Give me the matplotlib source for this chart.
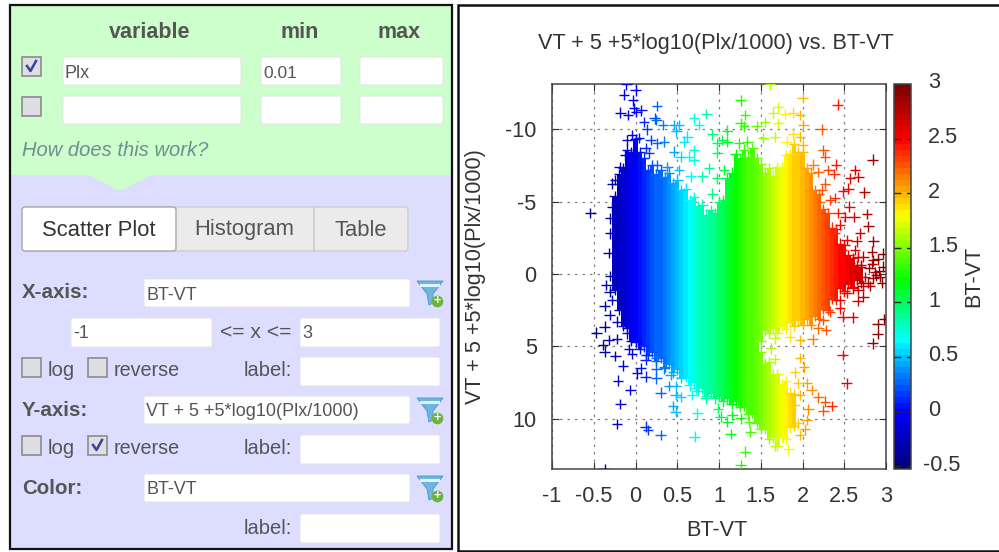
import numpy as np
import matplotlib
matplotlib.use('Agg')
import matplotlib.pyplot as plt
from matplotlib.patches import Rectangle, FancyBboxPatch, Polygon
from matplotlib.colors import Normalize, LinearSegmentedColormap

plt.rcParams['font.family'] = ['Liberation Sans', 'DejaVu Sans']

# dense part of the cloud, one column per colour step
col_x = [-0.25, -0.2, -0.15, -0.1, -0.05, 0.0, 0.05, 0.1, 0.15, 0.2, 0.25, 0.3, 0.35, 0.4, 0.45,
         0.5, 0.55, 0.6, 0.65, 0.7, 0.75, 0.8, 0.85, 0.9, 0.95, 1.0, 1.05, 1.1, 1.15, 1.2,
         1.25, 1.3, 1.35, 1.4, 1.45, 1.5, 1.55, 1.6, 1.65, 1.7, 1.75, 1.8, 1.85, 1.9, 1.95,
         2.0, 2.05, 2.1, 2.15, 2.2, 2.25, 2.3, 2.35, 2.4, 2.45, 2.5, 2.55, 2.6, 2.65, 2.7]
col_top = [-5.4, -6.9, -7.3, -8.6, -8.4, -9.3, -8.4, -8.0, -7.2, -7.5, -6.9, -7.2, -6.7, -7.0, -6.3,
           -6.5, -5.8, -5.9, -5.1, -5.3, -4.7, -4.8, -4.1, -4.4, -4.2, -5.0, -5.1, -6.6, -7.0, -8.3,
           -8.0, -8.6, -8.1, -8.7, -8.0, -7.6, -7.0, -7.3, -6.8, -7.4, -7.4, -8.2, -8.3, -9.0, -8.4,
           -8.4, -7.3, -7.0, -5.8, -5.5, -4.5, -4.2, -3.2, -3.1, -2.1, -2.0, -1.3, -1.1, -0.6, -0.5]
col_bot = [1.1, 2.5, 3.6, 3.7, 4.6, 4.6, 5.2, 5.0, 5.6, 5.4, 6.0, 5.8, 6.4, 6.2, 6.8,
           6.6, 7.2, 7.1, 7.7, 7.5, 8.1, 7.9, 8.4, 8.2, 8.6, 8.4, 8.8, 8.6, 9.0, 8.8,
           9.2, 9.1, 9.7, 9.6, 10.3, 4.6, 3.9, 4.1, 3.7, 4.1, 3.6, 3.8, 3.3, 3.6, 3.2,
           3.5, 3.1, 3.5, 2.9, 3.1, 2.4, 2.5, 1.7, 1.8, 1.0, 1.2, 0.7, 0.9, 0.4, 0.6]

# lower lobe that splits off on the red side
lobe_x = [1.5, 1.55, 1.6, 1.65, 1.7, 1.75, 1.8, 1.85, 1.9]
lobe_top = [5.4, 6.2, 6.1, 6.9, 6.9, 7.6, 7.4, 8.2, 8.3]
lobe_bot = [10.7, 10.7, 11.4, 11.3, 11.9, 11.3, 11.4, 10.6, 10.5]

# single stars around the cloud
star_x = [-0.11, 0.0, -0.14, -0.03, -0.02, -0.18, -0.09, 0.01, 0.07, 0.26, 0.23, 0.25, 0.1, 0.14, 0.33,
          0.46, 0.52, 0.49, 0.7, 0.76, 0.85, 1.26, 1.31, 1.26, 1.3, 1.45, 1.1, 0.92, 0.62, 0.58,
          1.04, 1.1, 0.98, 0.98, 1.24, 1.34, -0.1, -0.04, 0.04, 0.18, 0.26, 0.34, 0.12, 0.16, -0.12,
          0.46, 0.7, 0.54, 0.64, 0.7, 0.52, 0.38, 0.26, -0.19, -0.24, -0.28, 0.88, 0.8, 0.66, 0.98,
          1.06, 0.92, 1.1, -0.54, -0.3, -0.3, -0.32, -0.3, -0.28,
          1.61, 2.0, 2.42, 1.71, 1.65, 1.79, 1.89, 1.97, 2.01, 1.55, 1.71, 2.23, 1.89, 1.97, 1.67,
          1.53, 1.81, 2.0, 2.25, 2.27, 2.84, 2.4, 2.63, 2.31, 2.38, 2.13, 2.19, 2.67, 2.57, 2.27,
          2.55, 2.74, 2.23, 2.09, 2.49, 2.39, 2.33, 2.21, 2.56, 2.43, 2.77, 2.62, 2.51, 2.79, 2.69,
          2.45, 2.39, 2.85, 2.65, 2.53, 2.63, 2.83, 2.97, 2.85, 2.73, 2.47, 2.87, 2.57,
          2.81, 2.73, 2.66, 2.67, 2.98, 2.9, 2.9, 2.84, 2.48, 2.53, 2.6, 2.48, 2.45, 2.53, 2.45,
          2.33, 2.28, 2.19, 2.25, 2.12, 1.97, 1.85, 1.67, 1.62, 1.97, 1.67, 2.02, 1.91, 2.05, 2.11,
          1.95, 1.97, 2.19, 2.27, 2.35, 2.25, 2.07, 1.91, 2.05, 1.95, 2.03, 1.97, 1.77, 1.67, 1.83,
          -0.37, -0.35, -0.31, -0.28, -0.37, -0.31, -0.22, -0.37, -0.47, -0.32, -0.39, -0.37, -0.22, -0.1, 0.0,
          -0.08, -0.04, -0.24, -0.15, 0.13, 0.25, 0.12, 0.06, 0.02, 0.12, 0.25, 0.25, 0.34, 0.42, -0.21,
          -0.06, 0.3, 0.4, 0.48, 0.48, 0.54, 0.68, 0.72, 0.84, 0.99, -0.18, 0.45, 0.48, 0.74, 1.02,
          1.1, 1.16, 1.26, 1.36, -0.22, 0.12, 0.15, 0.3, 0.71, 1.14, 1.375, 1.31, 1.26,
          2.7, 2.75, 2.8, 2.85, 2.88, 2.92, 2.95, 2.78, 2.83, 2.72, 2.66, 2.6, 2.9, 2.97, 2.93]
star_y = [-13.1, -12.7, -12.4, -12.0, -11.45, -11.15, -11.0, -11.2, -11.3, -11.6, -10.75, -10.65, -10.5, -10.0, -10.3,
          -10.3, -10.3, -9.85, -10.75, -10.3, -11.05, -12.0, -11.0, -10.4, -10.2, -10.2, -9.9, -9.65, -9.5, -9.15,
          -9.25, -9.15, -9.03, -8.35, -9.03, -9.15, -9.25, -9.6, -9.4, -9.25, -9.03, -9.15, -8.7, -8.35, -8.2,
          -8.45, -8.55, -8.1, -8.1, -7.9, -7.2, -7.4, -7.5, -7.4, -6.5, -6.25, -7.3, -6.75, -6.75, -6.6,
          -7.2, -5.55, -5.0, -4.2, -3.85, -2.8, -1.45, 0.15, -4.65,
          -13.1, -12.15, -11.7, -11.55, -11.15, -11.05, -11.15, -11.0, -10.3, -10.5, -10.4, -10.0, -9.7, -9.5, -9.5,
          -9.4, -9.15, -8.9, -8.55, -8.1, -7.9, -7.55, -7.2, -7.2, -6.9, -7.55, -7.05, -6.7, -6.6, -6.25,
          -5.9, -5.65, -5.8, -5.7, -5.7, -5.25, -5.1, -5.0, -4.65, -4.2, -4.15, -3.95, -3.95, -3.3, -2.8,
          -3.4, -2.8, -2.25, -2.25, -2.35, -1.65, -1.55, -1.4, -0.95, -1.2, -1.65, -0.15, -0.75,
          0.83, 1.57, 1.84, 1.1, 3.13, 3.45, 4.15, 4.8, 5.6, 7.56, 3.0, 2.95, 2.37, 1.29, 1.8,
          2.6, 3.87, 3.76, 3.18, 4.52, 4.56, 4.33, 4.45, 5.14, 5.8, 5.9, 6.45, 6.8, 7.56, 8.02,
          7.56, 8.36, 8.53, 8.82, 9.12, 9.45, 9.36, 9.06, 10.09, 10.32, 10.74, 11.13, 11.24, 11.87, 12.12,
          13.5, 0.76, 1.22, 1.8, 2.2, 2.83, 3.3, 3.64, 4.06, 4.56, 4.9, 5.37, 4.5, 4.1, 4.68,
          5.2, 5.53, 5.67, 6.34, 5.6, 5.83, 5.95, 6.52, 6.87, 7.1, 6.59, 7.21, 6.52, 6.98, 7.37,
          8.02, 8.2, 7.74, 7.74, 8.36, 8.5, 8.36, 7.9, 8.6, 9.3, 8.99, 9.12, 9.52, 9.63, 9.86,
          10.2, 9.75, 9.98, 10.2, 10.37, 10.55, 10.78, 11.13, 11.24, 11.06, 10.9, 12.28, 13.2,
          -0.6, 0.2, -0.4, 0.3, 0.1, -0.2, 0.6, 0.6, -0.7, 0.8, -1.2, 1.0, -1.0, -0.5, 0.2]

x_ticks = [-1, -0.5, 0, 0.5, 1, 1.5, 2, 2.5, 3]
x_tick_labels = ['-1', '-0.5', '0', '0.5', '1', '1.5', '2', '2.5', '3']
y_ticks = [-10, -5, 0, 5, 10]
y_tick_labels = ['-10', '-5', '0', '5', '10']
cb_ticks = [-0.5, 0, 0.5, 1, 1.5, 2, 2.5, 3]
cb_tick_labels = ['-0.5', '0', '0.5', '1', '1.5', '2', '2.5', '3']

# left panel text
filter_heads = ['variable', 'min', 'max']
form_labels = ['X-axis:', 'Y-axis:', 'Color:']
form_values = ['BT-VT', 'VT + 5 +5*log10(Plx/1000)', 'BT-VT']

W, H = 999, 552
fig = plt.figure(figsize=(W / 100, H / 100), dpi=100, facecolor='white')


def px_axes(l, t, r, b):
    return fig.add_axes([l / W, 1 - b / H, (r - l) / W, (b - t) / H])


# ---- left panel, drawn in pixel coordinates ----
ui = fig.add_axes([0, 0, 1, 1])
ui.set_xlim(0, W)
ui.set_ylim(H, 0)
ui.axis('off')


def box(x, y, w, h, fc='white'):
    ui.add_patch(FancyBboxPatch((x + 2, y + 2), w - 4, h - 4, boxstyle='round,pad=2', fc=fc, ec='#e4e4e4', lw=0.7))


def checkbox(x, y, checked=False):
    ui.add_patch(Rectangle((x, y), 19, 19, fc='#dedee4', ec='#8c8c8c', lw=1.2))
    if checked:
        ui.plot([x + 5, x + 8.5, x + 14], [y + 9, y + 14, y + 4], color='#3a3fa0', lw=1.8)


def txt(x, y, s, size=12, color='#555555', **kw):
    ui.text(x, y, s, fontsize=size, color=color, va='center', **kw)


def funnel(x, y):
    ui.add_patch(Polygon([(x, y), (x + 26, y), (x + 16, y + 13), (x + 16, y + 22), (x + 12, y + 24), (x + 10, y + 13)],
                         fc='#6fb6de', ec='#4f94c0', lw=0.6))
    ui.add_patch(Rectangle((x + 3, y + 3), 20, 3, fc='#dff1fb', ec='none'))
    ui.scatter([x + 20], [y + 20], s=55, color='#6cb33f', zorder=3)
    ui.text(x + 20, y + 20, '+', color='white', fontsize=9, fontweight='bold', ha='center', va='center', zorder=4)


ui.add_patch(Rectangle((10, 5), 442, 170, fc='#ccffcc', ec='none'))
ui.add_patch(Rectangle((10, 175), 442, 373, fc='#ddddff', ec='none'))
ui.add_patch(Polygon([(88, 175), (120, 191), (152, 175)], fc='#ccffcc', ec='none'))
ui.add_patch(Rectangle((10, 5), 442, 543.5, fc='none', ec='#111111', lw=1.6))

for s, cx in zip(filter_heads, [150, 300, 399]):
    txt(cx, 32, s, size=15.5, fontweight='bold', ha='center')
checkbox(22, 57, True)
checkbox(22, 97)
for y, v, m in [(57, 'Plx', '0.01'), (96, '', '')]:
    box(63, y, 178, 28)
    box(261, y, 80, 28)
    box(360, y, 83, 28)
    txt(65, y + 16, v, size=13)
    txt(263, y + 16, m, size=12.5)
txt(22, 150, 'How does this work?', size=14.5, color='#6f8f8f', style='italic')

# tabs
ui.add_patch(FancyBboxPatch((25, 210), 380, 38, boxstyle='round,pad=3', fc='#ebebeb', ec='#cccccc', lw=1))
ui.add_patch(FancyBboxPatch((25, 210), 148, 38, boxstyle='round,pad=3', fc='white', ec='#a8a8a8', lw=1))
ui.plot([314, 314], [207, 251], color='#cccccc', lw=1.2)
txt(99, 230, 'Scatter Plot', size=15.8, color='#333333', ha='center')
txt(244, 230, 'Histogram', size=15.8, color='#555555', ha='center')
txt(361, 230, 'Table', size=15.8, color='#555555', ha='center')

# form rows
for s, v, y in zip(form_labels, form_values, [279, 396, 474]):
    txt(22, y + 14, s, size=14.8, fontweight='bold')
    box(144, y, 266, 28)
    txt(146, y + 16, v, size=13)
    funnel(417, y + 2)
box(71, 318, 141, 29)
txt(73, 334, '-1', size=13)
txt(220, 332, '<= x <=', size=15.2)
box(300, 318, 140, 29)
txt(302, 334, '3', size=13)
for y, rev in [(358, False), (436, True)]:
    checkbox(22, y)
    txt(48, y + 13, 'log', size=14.6)
    checkbox(88, y, rev)
    txt(114, y + 13, 'reverse', size=14.2)
    txt(244, y + 13, 'label:', size=14.5)
    box(300, y - 1, 140, 29)
txt(244, 528, 'label:', size=14.5)
box(300, 514, 140, 29)

# frame round the chart, runs off the right edge
ui.add_patch(Rectangle((458, 5), 560, 545.5, fc='white', ec='#111111', lw=1.8))

# ---- chart ----
norm = Normalize(-0.526, 3)
# purer green than jet, stepped like the reference colour bar
cmap = LinearSegmentedColormap.from_list(
    'rainbow64',
    [(norm(-0.526), '#00007f'), (norm(0), '#0000ff'), (norm(0.65), '#00ffff'), (norm(1.2), '#00ff00'),
     (norm(1.8), '#ffff00'), (norm(2.5), '#ff0000'), (norm(3), '#7f0000')],
    N=64)

ax = px_axes(552, 84, 886, 469)
ax.set_xlim(-1, 3)
ax.set_ylim(13.48, -13.13)
ax.set_axisbelow(True)
ax.grid(True, color='#808080', linestyle=(0, (2, 4)), linewidth=0.9)

cx = np.array(col_x)
ax.bar(cx, np.array(col_bot) - np.array(col_top), bottom=col_top, width=0.052,
       color=cmap(norm(cx)), linewidth=0, zorder=2)
lx = np.array(lobe_x)
ax.bar(lx, np.array(lobe_bot) - np.array(lobe_top), bottom=lobe_top, width=0.052,
       color=cmap(norm(lx)), linewidth=0, zorder=2)
# crosses along the edge of the dense part, then the loose ones
for xs, ys in [(col_x, col_top), (col_x, col_bot), (lobe_x, lobe_top), (lobe_x, lobe_bot), (star_x, star_y)]:
    ax.scatter(xs, ys, c=xs, cmap=cmap, norm=norm, marker='+', s=58, linewidths=1.0, zorder=3)

ax.set_xticks(x_ticks)
ax.set_xticklabels(x_tick_labels)
ax.set_yticks(y_ticks)
ax.set_yticklabels(y_tick_labels)
ax.tick_params(direction='in', top=True, right=True, labelsize=15.6, length=5, width=0.8, colors='#333333')
ax.tick_params(axis='x', pad=12)
ax.tick_params(axis='y', pad=11)
for sp in ax.spines.values():
    sp.set_color('#444444')
    sp.set_linewidth(1.1)
ax.set_xlabel('BT-VT', fontsize=15.6, color='#333333', va='center')
ax.xaxis.set_label_coords((717 - 552) / 334, (469 - 530) / 385)
ax.set_ylabel('VT + 5 +5*log10(Plx/1000)', fontsize=15.6, color='#333333', va='center')
ax.yaxis.set_label_coords((475 - 552) / 334, (469 - 277) / 385)
fig.text(716 / W, 1 - 44 / H, 'VT + 5 +5*log10(Plx/1000) vs. BT-VT', fontsize=15.6, color='#333333',
         ha='center', va='center')

cax = px_axes(894, 84, 911, 469)
sm = plt.cm.ScalarMappable(norm=norm, cmap=cmap)
cb = fig.colorbar(sm, cax=cax)
cb.set_ticks(cb_ticks)
cb.set_ticklabels([])
cax.tick_params(right=False)
cb.outline.set_edgecolor('#444444')
cb.outline.set_linewidth(1.1)
cax.hlines(cb_ticks, 0, 1, transform=cax.get_yaxis_transform(), colors='#222222', linewidth=1,
           linestyle=(0, (5, 4)))
for t, s in zip(cb_ticks, cb_tick_labels):
    # the minus sticks out to the left of the other labels
    left = 923 if s.startswith('-') else 928
    cax.text((left - 894) / 17, t + 0.01, s, transform=cax.get_yaxis_transform(), fontsize=15.6, color='#333333',
             ha='left', va='center', clip_on=False)
cb.set_label('BT-VT', fontsize=15.6, color='#333333', rotation=90, va='center')
cax.yaxis.set_label_coords((974 - 894) / 17, 0.5)

fig.savefig('out.png', dpi=100)
